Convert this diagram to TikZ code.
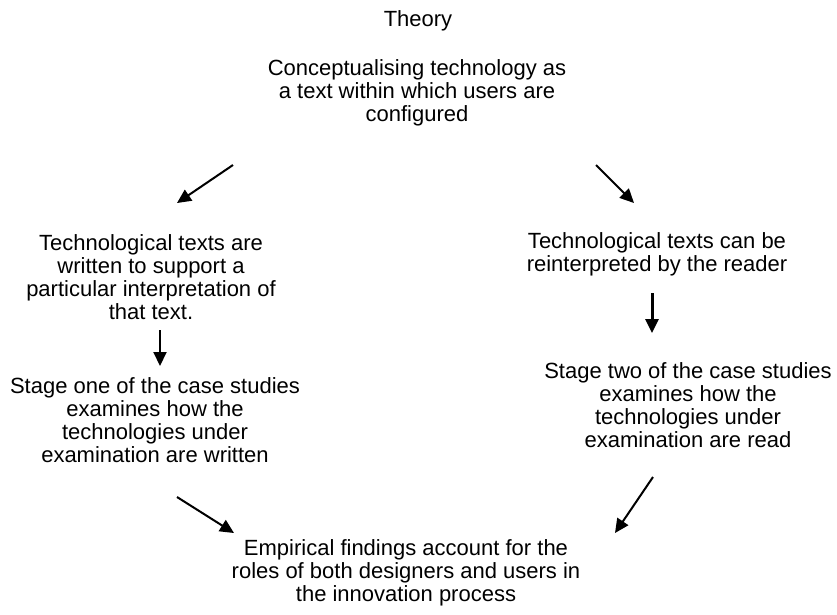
\documentclass[tikz,border=0pt]{standalone}
\usepackage{fontspec}
\setmainfont{Liberation Sans}
\usetikzlibrary{arrows.meta}
\begin{document}
\begin{tikzpicture}[x=1pt,y=-1pt,
  txt/.style={align=center,inner sep=0pt,font=\fontsize{22}{23.2}\selectfont},
  arr/.style={line width=2pt,-{Triangle[length=14pt,width=13pt]}}]
\useasboundingbox (0,0) rectangle (837,614);
\node[txt] (theory) at (418,21) {Theory};
\node[txt] (top) at (417,93) {Conceptualising technology as\\a text within which users are\\configured};
\node[txt] (l1) at (151,277) {Technological texts are\\written to support a\\particular interpretation of\\that text.};
\node[txt] (l2) at (155,420) {Stage one of the case studies\\examines how the\\technologies under\\examination are written};
\node[txt] (r1) at (657,254) {Technological texts can be\\reinterpreted by the reader};
\node[txt] (r2) at (688,405) {Stage two of the case studies\\examines how the\\technologies under\\examination are read};
\node[txt] (bot) at (406,573) {Empirical findings account for the\\roles of both designers and users in\\the innovation process};
\coordinate (a1s) at (233,165); \coordinate (a1e) at (177,203);
\coordinate (a2s) at (596,165); \coordinate (a2e) at (634,203);
\coordinate (a3s) at (160,330); \coordinate (a3e) at (160,366);
\coordinate (a4s) at (652,293); \coordinate (a4e) at (652,333);
\coordinate (a5s) at (177,497); \coordinate (a5e) at (234,533);
\coordinate (a6s) at (653,477); \coordinate (a6e) at (615,533);
\draw[arr] (a1s) -- (a1e);
\draw[arr] (a2s) -- (a2e);
\draw[arr] (a3s) -- (a3e);
\draw[arr,line width=3pt] (a4s) -- (a4e);
\draw[arr] (a5s) -- (a5e);
\draw[arr] (a6s) -- (a6e);
\end{tikzpicture}
\end{document}
